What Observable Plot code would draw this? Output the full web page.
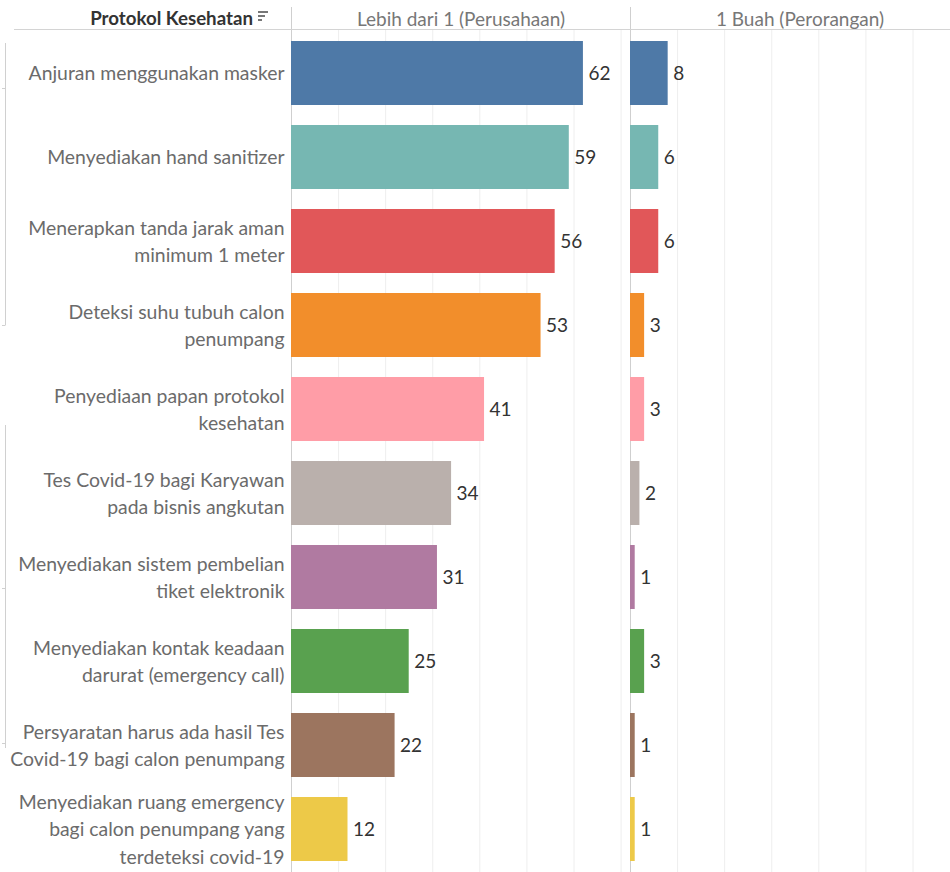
<!DOCTYPE html>
<html>
<head>
<meta charset="utf-8">
<script src="https://cdn.jsdelivr.net/npm/d3@7"></script>
<script src="https://cdn.jsdelivr.net/npm/@observablehq/plot@0.6"></script>
<style>
  html, body { margin: 0; padding: 0; background: #fff; overflow: hidden; }
  #wrap { position: relative; width: 950px; height: 872px; overflow: hidden; }
  #chart svg { max-width: none !important; }
  #overlay { position: absolute; left: 0; top: 0; pointer-events: none; }
</style>
</head>
<body>
<div id="wrap">
  <div id="chart"></div>
  <svg id="overlay" width="950" height="872"></svg>
</div>
<script>
const categories = [
  "Anjuran menggunakan masker",
  "Menyediakan hand sanitizer",
  "Menerapkan tanda jarak aman\nminimum 1 meter",
  "Deteksi suhu tubuh calon\npenumpang",
  "Penyediaan papan protokol\nkesehatan",
  "Tes Covid-19 bagi Karyawan\npada bisnis angkutan",
  "Menyediakan sistem pembelian\ntiket elektronik",
  "Menyediakan kontak keadaan\ndarurat (emergency call)",
  "Persyaratan harus ada hasil Tes\nCovid-19 bagi calon penumpang",
  "Menyediakan ruang emergency\nbagi calon penumpang yang\nterdeteksi covid-19"
];
const perusahaan = [62, 59, 56, 53, 41, 34, 31, 25, 22, 12];
const perorangan = [8, 6, 6, 3, 3, 2, 1, 3, 1, 1];
const groups = ["Lebih dari 1 (Perusahaan)", "1 Buah (Perorangan)"];
const colors = ["#4e79a7", "#76b7b2", "#e15759", "#f28e2b", "#ff9da7",
                "#bab0ac", "#b07aa1", "#59a14f", "#9c755f", "#edc948"];
const gridTicks = [10, 20, 30, 40, 50, 60, 70];
const rowHeader = "Protokol Kesehatan";

const data = categories.flatMap((c, i) => [
  {cat: c, group: groups[0], value: perusahaan[i]},
  {cat: c, group: groups[1], value: perorangan[i]}
]);

const chart = Plot.plot({
  width: 969,
  height: 872,
  marginLeft: 290,
  marginRight: 0,
  marginTop: 30,
  marginBottom: 0,
  style: {fontFamily: "Lato, 'Open Sans', sans-serif", background: "white", maxWidth: "none"},
  x: {domain: [0, 72], axis: null},
  y: {domain: categories, paddingInner: 0.24, paddingOuter: 0.11, axis: null},
  fx: {domain: groups, padding: 0, axis: null},
  color: {domain: categories, range: colors},
  marks: [
    Plot.gridX(gridTicks, {stroke: "#eeeeee", strokeOpacity: 1}),
    Plot.ruleX([0], {stroke: "#cfcfcf", insetTop: -23}),
    Plot.barX(data, {x: "value", y: "cat", fx: "group", fill: "cat"}),
    Plot.text(data, {x: "value", y: "cat", fx: "group", text: d => String(d.value),
      textAnchor: "start", dx: 5, fontSize: 19, fill: "#333"}),
    Plot.axisY({anchor: "left", tickSize: 0, tickPadding: 7, label: null, dy: -2,
      fontSize: 19.4, lineHeight: 1.43, fill: "#6b6b6b"}),
    Plot.axisFx({anchor: "top", tickSize: 0, tickPadding: 5, label: null,
      fontSize: 19, fill: "#777"})
  ]
});
document.getElementById("chart").appendChild(chart);

// decorations (header line, row header title, sort icon, faint left guides)
const ov = d3.select("#overlay");
ov.append("line").attr("x1", 14).attr("x2", 950).attr("y1", 29.5).attr("y2", 29.5)
  .attr("stroke", "#d4d4d4");
ov.append("text").attr("x", 253).attr("y", 25).attr("text-anchor", "end")
  .attr("font-family", "Lato, 'Open Sans', sans-serif").attr("font-size", 18.7)
  .attr("font-weight", "bold").attr("fill", "#333").text(rowHeader);
[[12, 10], [16, 7], [20, 4]].forEach(([y, w]) => {
  ov.append("line").attr("x1", 258).attr("x2", 258 + w).attr("y1", y).attr("y2", y)
    .attr("stroke", "#555").attr("stroke-width", 1.6);
});
[[43, 325, [88, 325]], [425, 748, [588, 743]]].forEach(([a, b, ticks]) => {
  ov.append("line").attr("x1", 5.5).attr("x2", 5.5).attr("y1", a).attr("y2", b)
    .attr("stroke", "#d0d0d0");
  ticks.forEach(t => ov.append("line").attr("x1", 2).attr("x2", 5.5)
    .attr("y1", t + 0.5).attr("y2", t + 0.5).attr("stroke", "#d0d0d0"));
});
</script>
</body>
</html>
